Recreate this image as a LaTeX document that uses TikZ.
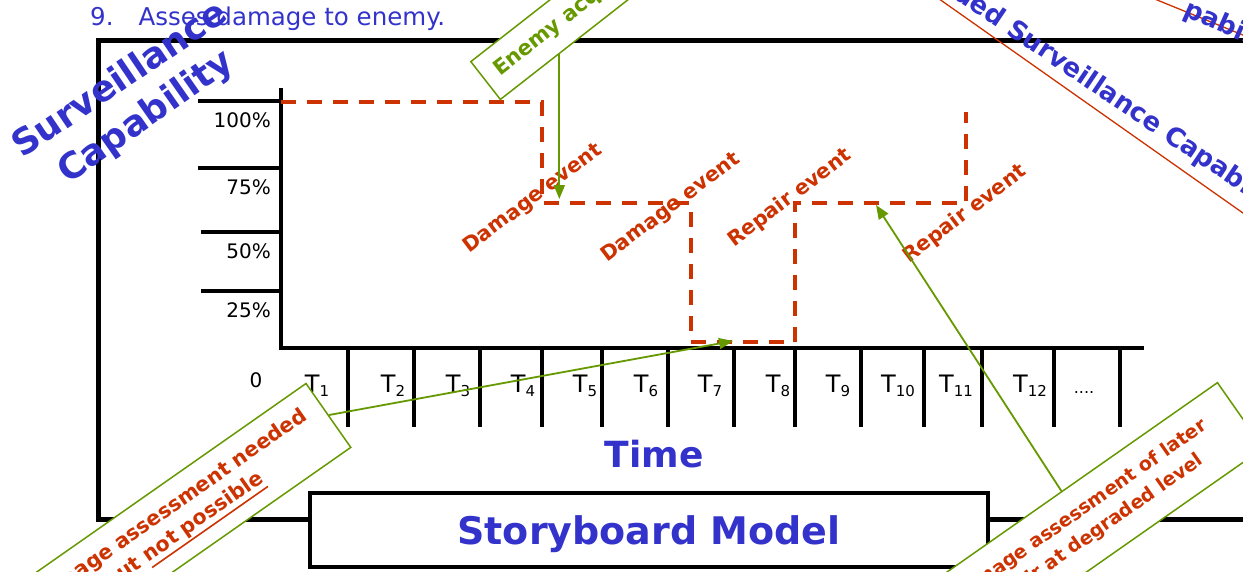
\documentclass[tikz,border=0pt]{standalone}
\usepackage{fontspec}
\setmainfont{DejaVu Sans}
\usetikzlibrary{arrows.meta,calc}
\definecolor{sblue}{HTML}{3333CC}
\definecolor{sred}{HTML}{CC3300}
\definecolor{sgreen}{HTML}{669900}
\newcommand{\thickul}[1]{\setbox0\hbox{#1}\rlap{\rule[-7pt]{\wd0}{1.6pt}}\box0}
\begin{document}
\begin{tikzpicture}[x=1pt,y=-1pt,
  frame/.style={line width=5pt},
  axisline/.style={line width=4pt},
  tickline/.style={line width=3.5pt},
  curve/.style={draw=sred, line width=3.5pt, dash pattern=on 15pt off 11pt},
  pct/.style={anchor=east, inner sep=0pt, font=\fontsize{20}{20}\selectfont},
  tlab/.style={anchor=base, inner sep=0pt, font=\fontsize{24}{24}\selectfont},
  event/.style={text=sred, font=\fontsize{20.5}{20.5}\selectfont\bfseries, rotate=37, inner sep=0pt},
  callout/.style={draw=sgreen, fill=white, line width=1.5pt, align=center, text=sred},
  conn/.style={draw=sgreen, line width=1.8pt, -{Triangle[length=14pt,width=11pt]}},
  bigblue/.style={text=sblue, font=\fontsize{36}{36}\selectfont\bfseries, inner sep=0pt},
  midblue/.style={text=sblue, font=\fontsize{26}{26}\selectfont\bfseries, inner sep=0pt},
]
\useasboundingbox (0,0) rectangle (1243,571);
\clip (0,0) rectangle (1243,571);
\fill[white] (0,0) rectangle (1243,571);

% heading line
\node[anchor=base west, inner sep=0pt, text=sblue, font=\fontsize{24.5}{24.5}\selectfont] (intro) at (90,25) {9.\hspace{25pt}Asses damage to enemy.};

% outer frame
\draw[frame] (98,40) rectangle (1330,519);

% axes
\draw[axisline] (281,88) -- (281,348) -- (1144,348);
\foreach \yy/\xx/\lab [count=\i] in {101/198/100\%, 168/198/75\%, 232/201/50\%, 291/201/25\%} {
  \draw[tickline] (\xx,\yy) -- (281,\yy);
  \node[pct] (p\i) at (271,\yy+19) {\lab};
}
\node[pct, anchor=center] (zero) at (256,380) {0};
\foreach \xx in {348,414,480,542,602,668,734,795,861,924,982,1054,1120}
  \draw[tickline] (\xx,348) -- (\xx,427);
\foreach \xx/\n in {317/1,393/2,458/3,523/4,585/5,646/6,710/7,778/8,838/9,898/10,956/11,1030/12}
  \node[tlab] (t\n) at (\xx,392) {T\raisebox{-4pt}{\fontsize{15}{15}\selectfont\n}};
\node[tlab, font=\fontsize{16}{16}\selectfont] (tdots) at (1084,393) {....};

% capability curve
\draw[curve] (281,102) -- (542,102) -- (542,203) -- (691,203) -- (691,342) -- (795,342) -- (795,203) -- (966,203) -- (966,112);

% event labels
\node[event] (dmg1) at (533,199) {Damage event};
\node[event] (dmg2) at (671,208) {Damage event};
\node[event] (rep1) at (790,198) {Repair event};
\node[event] (rep2) at (965,214) {Repair event};

% axis title
\node[anchor=base, inner sep=0pt, text=sblue, font=\fontsize{36}{36}\selectfont\bfseries] (time) at (654,467) {Time};

% storyboard box
\node[draw, line width=4pt, fill=white, minimum width=678, minimum height=74, text depth=0pt, text=sblue, font=\fontsize{38}{38}\selectfont\bfseries] (story) at (649,530) {Storyboard Model};

% callout boxes
\node[callout, rotate=35, anchor=east, minimum width=368, minimum height=78, font=\fontsize{20.5}{26}\selectfont\bfseries] (needA) at (329,415) {Damage assessment needed\\but \thickul{not possible}};
\node[callout, rotate=38, anchor=west, minimum height=48, inner xsep=14pt, text=sgreen, font=\fontsize{21}{21}\selectfont\bfseries] (enemy) at (485,81) {Enemy acquired};
\node[callout, rotate=35, anchor=east, minimum width=374, minimum height=80, font=\fontsize{19}{26}\selectfont\bfseries] (later) at (1241,415) {Damage assessment of later\\repair at degraded level};

% connectors
\coordinate (tipA) at (733,341);
\coordinate (tipB) at (559,199);
\coordinate (tipC) at (876,205);
\draw[conn] (needA.east) -- (tipA);
\path ($(enemy.south west)!75pt!(enemy.south east)$) coordinate (acqS);
\draw[conn] (acqS) -- (acqS |- tipB);
\draw[conn] ($(later.north)!3pt!(later.north west)$) -- (tipC);

% top-right fragments
\draw[sred, line width=1.3pt] (925,-11) -- (1260,225);
\node[midblue, rotate=-34, anchor=base west] (degr) at (1005,33) {\llap{Degraded }Surveillance Capability};
\draw[sred, line width=1.3pt] (1140,-7) -- (1260,42);
\node[midblue, rotate=-24, anchor=base west] (cap2) at (1182,15) {pability};

% big left label
\node[bigblue, rotate=34, anchor=base] (surv) at (126,89) {Surveillance};
\node[bigblue, rotate=35, anchor=base] (capab) at (152,126) {Capability};
\end{tikzpicture}
\end{document}
